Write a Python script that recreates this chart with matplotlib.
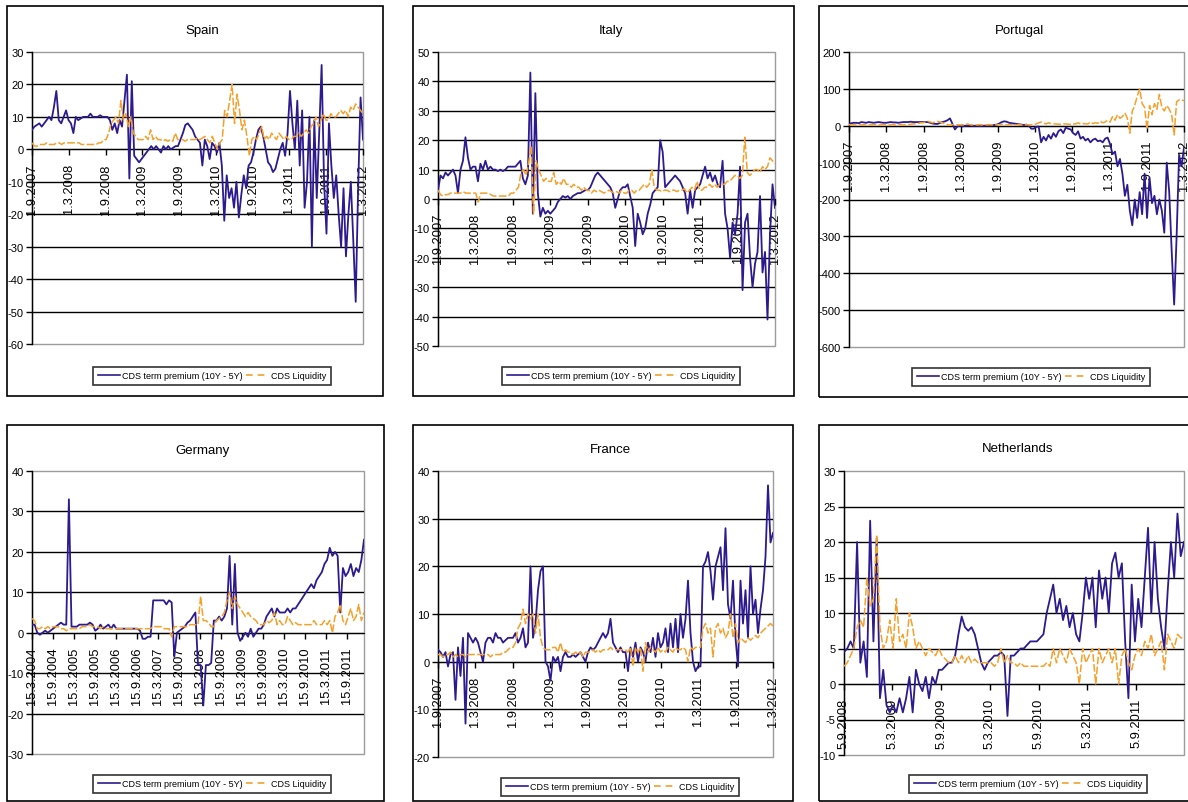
import numpy as np
import pandas as pd
import matplotlib
matplotlib.use("Agg")
import matplotlib.pyplot as plt
from matplotlib.lines import Line2D
from matplotlib.patches import Rectangle

plt.rcParams['font.family'] = ['Liberation Sans Narrow', 'Liberation Sans', 'DejaVu Sans']

BLUE = '#2d1a8e'
ORANGE = '#f5a02a'
W, H = 1188, 803

# half-year tick dates
ticks_0712 = ['2007-09-01', '2008-03-01', '2008-09-01', '2009-03-01', '2009-09-01',
              '2010-03-01', '2010-09-01', '2011-03-01', '2011-09-01', '2012-03-01']
ticks_de = ['2004-03-15', '2004-09-15', '2005-03-15', '2005-09-15', '2006-03-15',
            '2006-09-15', '2007-03-15', '2007-09-15', '2008-03-15', '2008-09-15',
            '2009-03-15', '2009-09-15', '2010-03-15', '2010-09-15', '2011-03-15',
            '2011-09-15']
ticks_nl = ['2008-09-05', '2009-03-05', '2009-09-05', '2010-03-05', '2010-09-05',
            '2011-03-05', '2011-09-05']

# Spain (bp), Sep 2007 - Mar 2012
spain_term = [6, 7, 7.5, 8, 7, 8, 9, 10, 9, 13, 18, 9, 8, 10, 12,
              9, 8, 5, 10, 9, 9.5, 10, 10, 10, 11, 10, 10, 10, 10.5, 10,
              10, 10, 9, 6, 8, 5, 9, 7, 15, 23, -9, 21, -2, -3, -4,
              -3, -2, -1, 0, 1, 0, 1, 0, -1, 1, 0, 1, 0, 0.5, 1,
              1, 3, 5, 7.5, 8, 7, 6, 4, 3, 2, -5, 3, 1, -3, 2,
              1, -1, 2, -5, -22, -8, -15, -12, -18, -10, -21, -14, -8, -12, -5,
              -4, -1, 3, 6, 7, 4, 0, -4, -5, -7, -6, -3, 0, 2, -2,
              5, 18, 8, 0, 15, -5, 12, -18, -10, 10, -30, 9, -15, 5, 26,
              -10, -26, 8, -5, -15, -8, -20, -30, -12, -33, -20, -10, -28, -47, -12, 16, 3]
spain_liq = [2, 1, 1, 1.5, 1.5, 1.5, 2, 1.5, 1.5, 1.5, 2, 2, 1.5, 2, 2,
             2, 2, 2, 2, 2, 1.5, 1.5, 1.5, 1.5, 1.5, 1.5, 1.5, 2, 2, 3,
             3, 5, 8, 9, 10, 8, 15, 9, 11, 7, 10, 5, 4, 3, 3,
             3, 4, 3, 6, 3, 4, 3, 3, 2.5, 3, 2.5, 3, 2.5, 5, 3,
             3, 3, 2.5, 3, 3, 3, 3, 3.5, 3, 3.5, 4, 3, 2, 4, 2,
             0, 2, 3, 12, 10, 15, 20, 8, 17, 12, 6, 9, 4, -2, 3,
             4, 3, 5, 7, 3, 4, 3, 5, 4, 3, 5, 4, 3, 4, 3,
             3, 4, 4, 5, 4, 5, 6, 5, 7, 8, 10, 7, 9, 11, 9,
             9, 11, 10, 10, 11, 12, 11, 12, 10, 13, 12, 14, 13, 12, 11]

# Italy
italy_term = [3, 8, 7, 9, 8, 9, 10, 8, 2, 10, 13, 21, 14, 10, 11,
              11, 6, 12, 10, 13, 10, 11, 10, 10, 9.5, 10, 9.5, 10, 11, 11,
              11, 11, 12, 13, 7, 5, 8, 43, -5, 36, 2, -6, -3, -5, -4,
              -5, -4, -3, -1, 0, 1, 0.5, 1, 0, 1, 1.5, 2, 2, 2.5, 3,
              3, 4, 6, 8, 9, 8, 7, 6, 5, 4, 2, -3, 0, 3, 4,
              4, 5, 1, -3, -16, -5, -8, -12, -10, -5, -2, 2, 3, 4, 20,
              16, 4, 5, 6, 7, 8, 7, 6, 4, 2, -5, 3, -3, 3, 4,
              5, 8, 11, 7, 9, 6, 8, 5, 4, 13, -5, -10, -20, -8, -12,
              -5, 11, -31, -8, -5, -20, -30, -22, -18, 1, -25, -18, -41, -12, 5, -3]
italy_liq = [3, 1.5, 1, 1.5, 1.5, 2, 2, 2, 2, 2, 2.5, 2, 2, 2, 2,
             2, -1, 2, 2, 2, 2, 1.5, 1, 1, 1, 1, 1, 1, 1, 2,
             2, 3, 4, 9, 10, 8, 12, 18, -5, 13, 10, 8, 6, 7, 6,
             6, 9, 5, 6, 5, 7, 5, 5, 4, 5, 4, 4, 3, 4, 3,
             3, 2, 3, 2.5, 3, 2.5, 2, 2.5, 3, 2.5, 2, 2.5, 2, 3, 2,
             2, 3, 3, 2, 3, 3, 4, 5, 4, 5, 10, 4, 3, 3, 2.5,
             3, 3, 2.5, 3, 3, 2.5, 3, 3, 3.5, 2, 3, 4, 3, 6, 3,
             3, 4, 4, 5, 4, 5, 4, 5, 5, 5, 6, 6, 7, 8, 8,
             7, 8, 21, 9, 8, 9, 10, 10, 9, 11, 10, 11, 14, 13, 12]

# Portugal
portugal_term = [5, 7, 8, 8, 7, 10, 9, 8, 10, 9, 8, 9, 10, 9, 8,
                 8, 9, 10, 9, 9, 8, 9, 10, 10, 10, 11, 10, 10, 10, 10,
                 10, 10, 10, 8, 6, 5, 5, 8, 10, 12, 15, 20, 5, -10, -2,
                 0, -2, 0, 0, 1, 0, 0, 0, -1, 0, 0, 1, 0, 1, 2,
                 3, 6, 10, 12, 11, 8, 7, 6, 5, 4, 3, 2, 3, 0, -8,
                 -8, -3, -2, -45, -30, -40, -25, -35, -20, -30, -15, -10, -20, -5, -8,
                 -10, -20, -25, -15, -35, -30, -40, -35, -45, -38, -35, -42, -40, -45, -35,
                 -32, -50, -77, -70, -110, -90, -130, -190, -160, -230, -270, -200, -250, -180, -240,
                 -130, -250, -140, -210, -190, -240, -200, -230, -290, -100, -180, -340, -485, -300, -80, -110, -60]
portugal_liq = [3, 2, 3, 2, 3, 2, 3, 2, 3, 2, 3, 3, 2, 3, 3,
                3, 2, 3, 3, 2, 3, 3, 2, 3, 3, 4, 5, 5, 6, 8,
                8, 10, 12, 10, 8, 10, 12, 10, 8, 5, 3, 2, 3, 2, 3,
                2, 3, 2, 5, 3, 2, 3, 2, 3, 2, 3, 2, 3, 2, 3,
                3, 3, 4, 3, 2, 3, 3, 3, 2, 3, 2, 3, 3, 2, 3,
                3, 5, 8, 10, 7, 5, 8, 6, 5, 5, 4, 4, 5, 5, 4,
                4, 5, 5, 8, 5, 6, 5, 5, 10, 6, 8, 7, 12, 8, 10,
                15, 10, 25, 15, 30, 20, 25, 35, 20, -20, 40, 55, 80, 100, 60,
                50, -10, 55, 30, 60, 45, 85, 50, 40, 55, 45, 30, -25, 65, 70, 70, 68]

# Germany, Mar 2004 - Feb 2012
germany_term = [2, 2, 0, -0.5, 0, 0.5, 0, 0.5,
                1, 1.5, 2, 2.5, 2, 2, 33, 1.5,
                1.5, 1.5, 2, 2, 2, 2, 2.5, 2,
                0.5, 1, 2, 1, 1.5, 2, 1, 2,
                1, 1, 1, 1, 1, 1, 1, 1,
                1, 0.5, -1.5, -1.5, -1, -1, 8, 8,
                8, 8, 8, 7, 8, 7.5, -6, 0,
                0.5, 1, 1.5, 2.5, 3, 4, 5, -8,
                -8, -18, -8, -8, -7.5, 3, 3, 4,
                3, 4, 6, 19, 2, 17, 0, -2,
                -1, 0, -1, 1, -1, 0, 1, 1,
                2, 4, 5, 6, 4, 6, 5, 5,
                5, 6, 5, 6, 6, 7, 8, 9,
                10, 11, 12, 11, 13, 14, 15, 17,
                18, 21, 19, 20, 19, 5, 16, 14,
                15, 17, 14, 16, 15, 18, 23]
germany_liq = [3.5, 3, 1, 1, 1.5, 1, 1.5, 1,
               1.5, 1.5, 1.5, 1, 1, 0.5, 1, 1,
               1, 1, 1, 1.5, 1.5, 1.5, 2, 1.5,
               1.5, 1.5, 1, 1.5, 1, 1, 1, 1,
               1, 1, 1, 1, 1, 1, 1, 1,
               1, 1, 1, 1, 1, 1, 1.5, 1.5,
               1.5, 1.5, 1, 1, 1, -1, 1.5, 1.5,
               1.5, 1.5, 1.5, 1.5, 2, 2, 2, 2,
               9, 3, 3, 2.5, 1.5, 1.5, 3, 3.5,
               4, 5, 8, 10, 6, 9, 7, 6,
               5, 4, 5, 4, 3.5, 3, 2, 2,
               2, 3, 2.5, 3, 5, 2, 3, 2,
               2, 4, 3, 2, 2.5, 2, 2, 2,
               2, 2, 2, 3, 2, 2, 2, 3,
               2, 3, 0, 4, 5, 7, 3, 2,
               4, 6, 3, 4, 7, 3, 5]

# France
france_term = [2.5, 2, 1, 2, -1, 1.5, 2, -8, 3, -3, 5, -13, 6, 5, 4,
               5, 4, 2, 0, 4, 5, 5, 4, 6, 5, 5, 4, 4.5, 5, 5,
               5, 6, 4, 5, 7, 3, 4, 20, 5, 8, 15, 19, 20, 0, -1,
               -4, 1, 0, 1, -2, 1, 2, 1, 1, 1.5, 1, 1.5, 2, 1, 0,
               2, 3, 2.5, 3, 4, 5, 6, 5, 6, 9, 4, 3, 2, 3, 2,
               2, -2, 3, 1, 4, 0, 3, 2, 0, 4, 2, 5, 1, 6, 3,
               4, 7, 2, 8, 3, 9, 2, 10, 5, 9, 17, 6, 0, -2, -1,
               -1, 20, 21, 23, 19, 13, 20, 22, 24, 15, 28, 12, 9, 17, 5,
               -1, 17, 8, 15, 5, 20, 10, 13, 6, 11, 15, 22, 37, 25, 27]
france_liq = [1.5, 1.5, 1, 1.5, 1.5, 2, 1, 1.5, 1, 1.5, 1.5, 1, 1.5, 1.5, 1.5,
              1.5, 1.5, 1.5, 1.5, 1.5, 1.5, 1, 1.5, 1.5, 1.5, 1.5, 2, 2, 2.5, 3,
              3, 4, 7, 8, 11, 8, 10, 9, 10, 6, 10, 5, 3, 2.5, 2.5,
              2.5, 3, 3, 2, 4, 2, 2.5, 2, 2, 1.5, 2, 1.5, 2, 1, 2,
              2, 2, 2.5, 2, 2.5, 2, 2.5, 2.5, 2.5, 3, 2.5, 2.5, 2.5, 2.5, 2.5,
              2.5, 2, 3, -1, 3, 2, 3, -2, 4, 2, 3, 2.5, 2, 3, 2,
              2.5, 2, 3, 2.5, 2, 3, 2.5, 2.5, 3, 2.5, 0, 3, 2.5, 3, 3,
              3, 7, 8, 6, 7, 1, 7, 8, 6, 7, 5, 6, 10, 5, 8,
              4, 5, 4.5, 4, 5, 4.5, 5, 5.5, 5, 6, 6.5, 7, 7.5, 8, 7.5]

# Netherlands, Sep 2008 - Mar 2012
nl_term = [4.5, 5, 6, 5, 20, 3, 6, 1, 23, 6, 20.5, -2, 2, -3, -4,
           -3, -4, -2, -4, -2, 1, -4, 2, 0, -1, 1, -2, 1, 0, 2,
           2, 2.5, 3, 3, 4, 7, 9.5, 8, 7.5, 8, 7, 5, 3, 2, 3,
           3.5, 4, 4, 4.5, 4, -4.5, 4, 4, 4.5, 5, 5, 5.5, 6, 6, 6,
           6.5, 7, 10, 12, 14, 10, 12, 9, 11, 8, 10, 7, 6, 10, 15,
           12, 15, 8, 16, 12, 15, 10, 17, 18.5, 15, 17, 6, -2, 14, 6,
           12, 8, 15, 22, 10, 20, 12, 8, 5, 13, 20, 15, 24, 18, 20]
nl_liq = [2.5, 3, 4, 5, 8, 9, 8, 15, 11, 12, 21, 8, 5, 6, 9,
          5, 12, 6, 7, 5, 10, 8, 5, 6, 5, 4, 5, 4.5, 4, 5,
          4, 3.5, 3, 3, 4, 3, 4, 3, 4, 3, 3.5, 3, 3, 3, 3,
          3, 2.5, 3, 5, 3, 4, 3, 3, 2.5, 3, 2.5, 2.5, 2.5, 2.5, 2.5,
          2.5, 2.5, 3, 2.5, 5, 3, 5, 4, 3, 5, 4, 3, 0, 5, 3,
          4, 5, 0, 5, 3, 4, 5, 3, 5, 0, 4, 5, 3, 2, 4,
          5, 4, 6, 5, 7, 4, 5, 6, 2, 7, 6, 5, 7, 6.5, 6.5]

fig = plt.figure(figsize=(W / 100, H / 100), dpi=100)


def px_rect(x0, y0, x1, y1):
    return [x0 / W, 1 - y1 / H, (x1 - x0) / W, (y1 - y0) / H]


def panel(title, plot_px, frame_px, title_px, legend_px, start, end,
          term, liq, xlim, xticks, ylim, ystep):
    # outer chart frame
    fx = px_rect(*frame_px)
    fig.patches.append(Rectangle((fx[0], fx[1]), fx[2], fx[3], transform=fig.transFigure,
                                 fill=False, ec='black', lw=1.2))
    ax = fig.add_axes(px_rect(*plot_px))
    ax.plot(pd.date_range(start, end, periods=len(term)), term, color=BLUE, lw=1.3, zorder=3)
    ax.plot(pd.date_range(start, end, periods=len(liq)), liq, color=ORANGE, lw=1.1,
            ls=(0, (5, 1.5)), zorder=4)
    ax.set_xlim(pd.Timestamp(xlim[0]), pd.Timestamp(xlim[1]))
    ax.set_ylim(*ylim)

    # plot area border grey, axes black, x axis crossing at zero
    ax.add_patch(Rectangle((0, 0), 1, 1, transform=ax.transAxes, fill=False,
                           ec='#9c9c9c', lw=1.0, clip_on=False, zorder=0.5))
    for s in ['top', 'right']:
        ax.spines[s].set_visible(False)
    ax.spines['bottom'].set_position(('data', 0))
    ax.spines['bottom'].set_color('black')
    ax.spines['left'].set_color('black')
    ax.spines['left'].set_linewidth(1.0)

    yt = np.arange(ylim[0], ylim[1] + ystep / 2, ystep)
    ax.set_yticks(yt)
    ax.set_yticklabels([f"{v:g}" for v in yt])
    for v in yt[1:-1]:
        ax.axhline(v, color='black', lw=1.0, zorder=1)

    xt = [pd.Timestamp(t) for t in xticks]
    ax.set_xticks(xt)
    ax.set_xticklabels([f"{d.day}.{d.month}.{d.year}" for d in xt])
    ax.tick_params(axis='y', direction='out', length=4, width=1, labelsize=8, pad=2)
    ax.tick_params(axis='x', direction='out', length=4, width=1, labelsize=9.3, pad=6,
                   labelrotation=90)

    fig.text(title_px[0] / W, 1 - title_px[1] / H, title, ha='center', va='center', fontsize=9.5)

    handles = [Line2D([], [], color=BLUE, lw=1.2),
               Line2D([], [], color=ORANGE, lw=1.2, ls=(0, (4, 3)))]
    leg = ax.legend(handles, ['CDS term premium (10Y - 5Y)', 'CDS Liquidity'],
                    loc='center', bbox_to_anchor=(legend_px[0] / W, 1 - legend_px[1] / H),
                    bbox_transform=fig.transFigure, ncol=2, frameon=True, fancybox=False,
                    edgecolor='black', fontsize=6.5, handlelength=2.4, handletextpad=0.3,
                    columnspacing=0.4, borderpad=0.5, borderaxespad=0)
    leg.get_frame().set_linewidth(1.2)
    return ax


panel('Spain', (32, 53, 363, 345), (7, 7, 383, 397), (202, 31), (212, 377),
      '2007-09-01', '2012-03-01', spain_term, spain_liq,
      ('2007-09-01', '2012-03-01'), ticks_0712, (-60, 30), 10)
panel('Italy', (438, 53, 775, 347), (413, 7, 794, 397), (611, 31), (621, 377),
      '2007-09-01', '2012-03-01', italy_term, italy_liq,
      ('2007-09-01', '2012-03-01'), ticks_0712, (-50, 50), 10)
panel('Portugal', (849, 53, 1184, 348), (819, 7, 1192, 398), (1019, 31), (1031, 378),
      '2007-09-01', '2012-03-01', portugal_term, portugal_liq,
      ('2007-09-01', '2012-03-01'), ticks_0712, (-600, 200), 100)
panel('Germany', (32, 472, 364, 755), (7, 426, 384, 802), (202, 451), (212, 785),
      '2004-03-15', '2012-02-10', germany_term, germany_liq,
      ('2004-03-15', '2012-02-10'), ticks_de, (-30, 40), 10)
panel('France', (438, 472, 773, 758), (413, 426, 793, 802), (610, 450), (620, 788),
      '2007-09-01', '2012-03-01', france_term, france_liq,
      ('2007-09-01', '2012-03-01'), ticks_0712, (-20, 40), 10)
panel('Netherlands', (844, 472, 1184, 756), (819, 426, 1192, 802), (1018, 449), (1028, 785),
      '2008-09-05', '2012-03-01', nl_term, nl_liq,
      ('2008-09-05', '2012-03-01'), ticks_nl, (-10, 30), 5)

fig.savefig('out.png', dpi=100)
